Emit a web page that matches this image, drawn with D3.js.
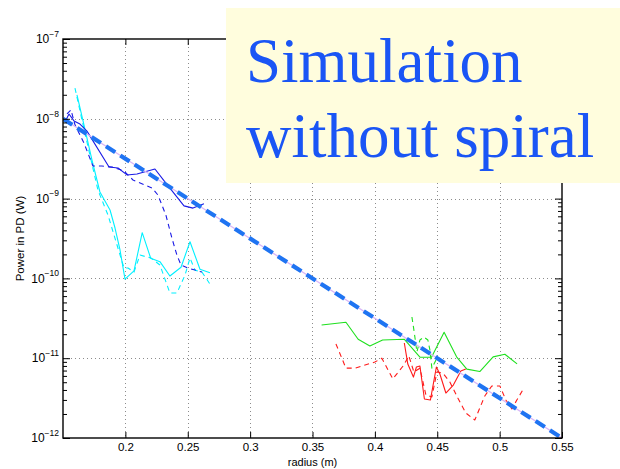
<!DOCTYPE html>
<html>
<head>
<meta charset="utf-8">
<script src="https://cdn.jsdelivr.net/npm/d3@7"></script>
<style>
  html, body { margin: 0; padding: 0; background: #fff; }
  svg { display: block; }
  .axis-font { font-family: "Liberation Sans", Arial, Helvetica, sans-serif; }
</style>
</head>
<body>
<svg id="chart" width="620" height="469"></svg>
<script>
// Axis ticks
const xTicks = [0.2, 0.25, 0.3, 0.35, 0.4, 0.45, 0.5, 0.55];
const yExponents = [-7, -8, -9, -10, -11, -12];

// Cyan: inner radius, solid and dashed
const rCyanSolid = [0.1612, 0.1668, 0.1732, 0.1796, 0.1877, 0.1917, 0.1957, 0.1997, 0.2069, 0.2135, 0.2203, 0.2277, 0.2357, 0.2446, 0.2518, 0.2598, 0.2678];
const pCyanSolid = [1.99e-8, 8.4e-9, 3.05e-9, 1.21e-9, 7.2e-10, 4.28e-10, 2.27e-10, 9.8e-11, 1.24e-10, 3.74e-10, 1.79e-10, 1.62e-10, 1.07e-10, 1.38e-10, 2.88e-10, 1.30e-10, 1.18e-10];
const rCyanDash = [0.1596, 0.1652, 0.1716, 0.1780, 0.1861, 0.1933, 0.1989, 0.2021, 0.2069, 0.2117, 0.2205, 0.2277, 0.2357, 0.2413, 0.2478, 0.2518, 0.2558, 0.2614, 0.2678];
const pCyanDash = [2.43e-8, 9.7e-9, 3.5e-9, 1.28e-9, 6.2e-10, 2.62e-10, 1.35e-10, 1.35e-10, 1.2e-10, 1.96e-10, 1.8e-10, 1.47e-10, 6.56e-11, 6.56e-11, 1.1e-10, 1.8e-10, 1.27e-10, 1.2e-10, 8.5e-11];

// Blue: solid and dashed
const rBlueSolid = [0.1524, 0.1548, 0.1588, 0.1636, 0.1692, 0.1869, 0.1941, 0.2013, 0.2093, 0.2237, 0.2317, 0.2470, 0.2542, 0.2630];
const pBlueSolid = [9.66e-9, 1.15e-8, 9.4e-9, 8.6e-9, 7.0e-9, 2.49e-9, 2.42e-9, 1.98e-9, 2.03e-9, 2.35e-9, 1.62e-9, 8.1e-10, 7.6e-10, 8.6e-10];
const rBlueDash = [0.1532, 0.1564, 0.1596, 0.1668, 0.1740, 0.1812, 0.1893, 0.1989, 0.2061, 0.2157, 0.2213, 0.2261, 0.2325, 0.2373, 0.2413, 0.2446, 0.2502, 0.2614];
const pBlueDash = [1.15e-8, 1.29e-8, 8.4e-9, 4.98e-9, 2.56e-9, 2.56e-9, 2.49e-9, 2.22e-9, 1.71e-9, 1.48e-9, 1.36e-9, 1.11e-9, 6.2e-10, 3.2e-10, 1.96e-10, 1.47e-10, 1.35e-10, 1.2e-10];

// Green: outer radius, solid and dashed
const rGreenSolid = [0.3573, 0.3768, 0.3866, 0.3960, 0.4062, 0.4235, 0.4361, 0.4454, 0.4555, 0.4655, 0.4737, 0.4841, 0.4948, 0.5042, 0.5140];
const pGreenSolid = [2.61e-11, 2.82e-11, 1.73e-11, 1.42e-11, 1.69e-11, 1.73e-11, 1.03e-11, 1.03e-11, 2.11e-11, 1.04e-11, 7.3e-12, 6.8e-12, 1.04e-11, 1.12e-11, 8.5e-12];
const rGreenDash = [0.4297, 0.4313, 0.4337, 0.4361, 0.4393, 0.4425, 0.4441, 0.4457, 0.4497];
const pGreenDash = [3.28e-11, 2.25e-11, 1.2e-11, 1.69e-11, 1.84e-11, 1.69e-11, 1.27e-11, 7.5e-12, 1.0e-11];

// Red: solid and dashed
const rRedSolid = [0.4236, 0.4264, 0.4309, 0.4333, 0.4361, 0.4397, 0.4445, 0.4493, 0.4521, 0.4569, 0.4629, 0.4689, 0.4729];
const pRedSolid = [1.55e-11, 8.45e-12, 5.8e-12, 7.76e-12, 7.98e-12, 3.08e-12, 2.99e-12, 7.76e-12, 6.34e-12, 3.66e-12, 4.61e-12, 6.9e-12, 7.3e-12];
const rRedDash = [0.3688, 0.3768, 0.3840, 0.4000, 0.4056, 0.4144, 0.4232, 0.4272, 0.4313, 0.4361, 0.4409, 0.4457, 0.4497, 0.4545, 0.4601, 0.4665, 0.4729, 0.4801, 0.4881, 0.4937, 0.5002, 0.5050, 0.5098, 0.5138, 0.5186];
const pRedDash = [1.51e-11, 7.5e-12, 7.5e-12, 8.95e-12, 1.0e-11, 5.5e-12, 8.2e-12, 1.07e-11, 6.7e-12, 7.5e-12, 3.46e-12, 3.27e-12, 6.7e-12, 6.5e-12, 5.04e-12, 3.17e-12, 2.06e-12, 1.68e-12, 3.36e-12, 4.49e-12, 4.49e-12, 2.99e-12, 2.31e-12, 2.99e-12, 4.0e-12];

// Exponential fit endpoints
const rFit = [0.15, 0.55];
const pFit = [1e-8, 1e-12];

const titleLines = ["Simulation", "without spiral"];

const svg = d3.select("#chart");
const m = { left: 63, right: 562, top: 39, bottom: 438 };

const x = d3.scaleLinear().domain([0.15, 0.55]).range([m.left, m.right]);
const y = d3.scaleLog().domain([1e-12, 1e-7]).range([m.bottom, m.top]);

svg.append("defs").append("clipPath").attr("id", "plotclip")
  .append("rect").attr("x", m.left).attr("y", m.top)
  .attr("width", m.right - m.left).attr("height", m.bottom - m.top);

// Dotted grid
const grid = svg.append("g").attr("stroke", "#8c8c8c").attr("stroke-width", 1)
  .attr("stroke-dasharray", "1,3");
xTicks.filter(t => t < 0.549).forEach(t => {
  grid.append("line").attr("x1", Math.round(x(t)) + 0.5).attr("x2", Math.round(x(t)) + 0.5)
    .attr("y1", m.top).attr("y2", m.bottom);
});
yExponents.filter(e => e > -12 && e < -7).forEach(e => {
  const yy = Math.round(y(Math.pow(10, e))) + 0.5;
  grid.append("line").attr("x1", m.left).attr("x2", m.right).attr("y1", yy).attr("y2", yy);
});

// Data lines
const line = d3.line().x(d => x(d[0])).y(d => y(d[1]));
const plot = svg.append("g").attr("clip-path", "url(#plotclip)").attr("fill", "none");

function series(rs, ps, color, dashed, width) {
  plot.append("path")
    .datum(rs.map((r, i) => [r, ps[i]]))
    .attr("d", line)
    .attr("stroke", color)
    .attr("stroke-width", width || 1.1)
    .attr("stroke-dasharray", dashed ? "5,4" : null)
    .attr("stroke-linejoin", "round");
}

series(rCyanDash, pCyanDash, "#00f0ff", true);
series(rCyanSolid, pCyanSolid, "#00f0ff", false);
series(rBlueDash, pBlueDash, "#1a1ae6", true);
series(rBlueSolid, pBlueSolid, "#1a1ae6", false);
series(rGreenSolid, pGreenSolid, "#1fe01f", false);
series(rGreenDash, pGreenDash, "#1fe01f", true);
series(rRedDash, pRedDash, "#ff1a1a", true);
series(rRedSolid, pRedSolid, "#ff1a1a", false);

const fitData = rFit.map((r, i) => [r, pFit[i]]);
plot.append("path").datum(fitData).attr("d", line)
  .attr("stroke", "#d9b6f7").attr("stroke-width", 1.3);
plot.append("path").datum(fitData).attr("d", line)
  .attr("stroke", "#1f74f2").attr("stroke-width", 4.2)
  .attr("stroke-dasharray", "11,6");

// Axes (ticks point inward)
const xAxis = svg.append("g").attr("transform", `translate(0,${m.bottom})`)
  .call(d3.axisBottom(x).tickValues(xTicks).tickSizeInner(-6).tickSizeOuter(0)
    .tickFormat(d => String(+d.toFixed(2))));
xAxis.select(".domain").remove();
xAxis.selectAll("text").attr("y", 5).attr("font-size", 11.5).attr("class", "axis-font")
  .attr("fill", "#000");

const xAxisTop = svg.append("g").attr("transform", `translate(0,${m.top})`)
  .call(d3.axisTop(x).tickValues(xTicks).tickSizeInner(-6).tickSizeOuter(0).tickFormat(""));
xAxisTop.select(".domain").remove();

const majorY = yExponents.map(e => Math.pow(10, e));
const minorY = [];
for (let e = -12; e < -7; e++) for (let k = 2; k <= 9; k++) minorY.push(k * Math.pow(10, e));

const yAxis = svg.append("g").attr("transform", `translate(${m.left},0)`)
  .call(d3.axisLeft(y).tickValues(majorY).tickSizeInner(-7).tickSizeOuter(0).tickPadding(5)
    .tickFormat(""));
yAxis.select(".domain").remove();
yAxis.selectAll(".tick").each(function (d) {
  const t = d3.select(this).select("text")
    .attr("class", "axis-font").attr("fill", "#000").attr("x", -4).attr("dy", "0.36em");
  t.append("tspan").attr("font-size", 12).text("10");
  t.append("tspan").attr("font-size", 8.5).attr("dy", "-0.75em")
    .text("\u2212" + Math.round(-Math.log10(d)));
});
const yAxisMinor = svg.append("g").attr("transform", `translate(${m.left},0)`)
  .call(d3.axisLeft(y).tickValues(minorY).tickSizeInner(-4).tickSizeOuter(0).tickFormat(""));
yAxisMinor.select(".domain").remove();

const yAxisR = svg.append("g").attr("transform", `translate(${m.right},0)`)
  .call(d3.axisRight(y).tickValues(majorY).tickSizeInner(-7).tickSizeOuter(0).tickFormat(""));
yAxisR.select(".domain").remove();
const yAxisRMinor = svg.append("g").attr("transform", `translate(${m.right},0)`)
  .call(d3.axisRight(y).tickValues(minorY).tickSizeInner(-4).tickSizeOuter(0).tickFormat(""));
yAxisRMinor.select(".domain").remove();

svg.selectAll(".tick line").attr("stroke", "#000").attr("stroke-width", 1);
svg.selectAll("g").filter(function () { return this.hasAttribute("font-family"); })
  .attr("font-family", null);

// Axes box
svg.append("rect").attr("x", m.left).attr("y", m.top)
  .attr("width", m.right - m.left).attr("height", m.bottom - m.top)
  .attr("fill", "none").attr("stroke", "#000").attr("stroke-width", 1.4);

// Axis labels
svg.append("text").attr("class", "axis-font").attr("x", (m.left + m.right) / 2).attr("y", 466)
  .attr("text-anchor", "middle").attr("font-size", 11)
  .text("radius (m)");
svg.append("text").attr("class", "axis-font")
  .attr("transform", `translate(24,${(m.top + m.bottom) / 2}) rotate(-90)`)
  .attr("text-anchor", "middle").attr("font-size", 11.5)
  .text("Power in PD (W)");

// Title panel
svg.append("rect").attr("x", 226).attr("y", 8).attr("width", 394).attr("height", 175)
  .attr("fill", "#fffddd");
const title = svg.append("text")
  .attr("style", "font-family: 'Liberation Serif', 'DejaVu Serif', 'Noto Serif', 'Times New Roman', Times, serif; font-size: 63px;")
  .attr("fill", "#1a55f5");
titleLines.forEach((s, i) => {
  title.append("tspan").attr("x", 246).attr("y", 82 + i * 75).text(s);
});
</script>
</body>
</html>
